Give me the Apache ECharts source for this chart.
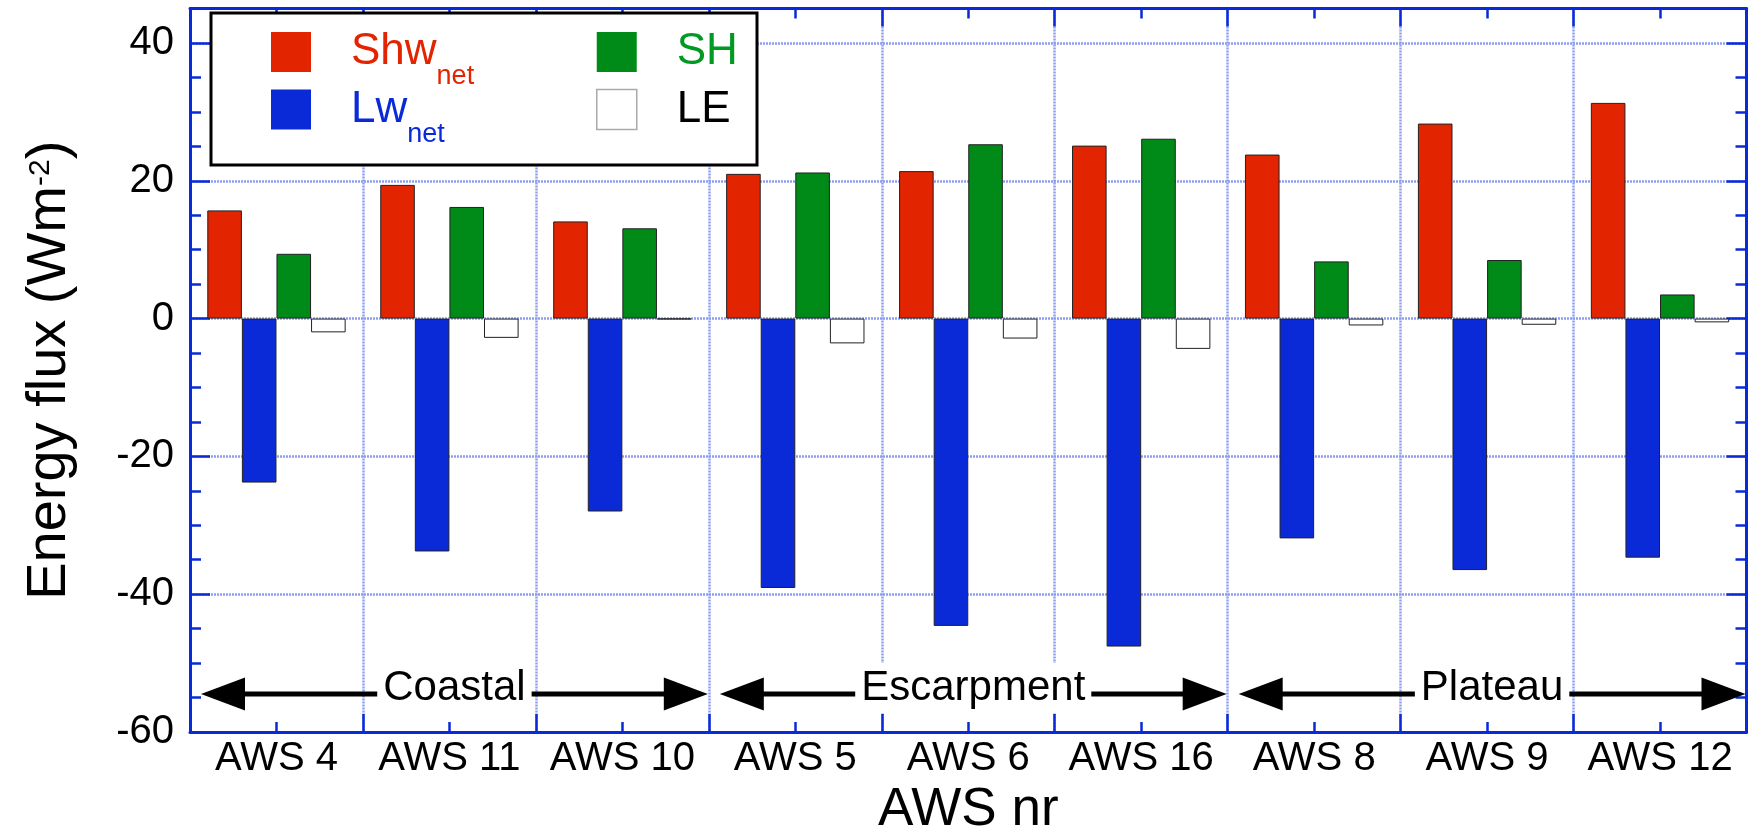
<!DOCTYPE html>
<html>
<head>
<meta charset="utf-8">
<script src="https://cdn.jsdelivr.net/npm/echarts@6/dist/echarts.min.js"></script>
<style>html,body{margin:0;padding:0;background:#fff}#c{width:1750px;height:831px}</style>
</head>
<body>
<div id="c"></div>
<script>
// ---- data ----
const categories = ['AWS 4', 'AWS 11', 'AWS 10', 'AWS 5', 'AWS 6', 'AWS 16', 'AWS 8', 'AWS 9', 'AWS 12'];
const shwNet = [15.7, 19.4, 14.1, 21.0, 21.4, 25.1, 23.8, 28.3, 31.3];
const lwNet  = [-23.8, -33.8, -28.0, -39.1, -44.6, -47.6, -31.9, -36.5, -34.7];
const shFlux = [9.4, 16.2, 13.1, 21.2, 25.3, 26.1, 8.3, 8.5, 3.5];
const leFlux = [-2.0, -2.8, -0.1, -3.6, -2.9, -4.4, -1.0, -0.9, -0.55];
const yMin = -60, yMax = 45, yMajor = 20, yMinor = 5;
const regionLabels = ['Coastal', 'Escarpment', 'Plateau'];
const regionStart = [0, 3, 6];
const regionEnd = [2, 5, 8];
const regionLevel = -54.5;

// ---- styles ----
const FONT = '"Liberation Sans", Arial, Helvetica, sans-serif';
const RED = '#e32400', BLUE = '#0a2ad8', GREEN = '#008a17', LEG_GREEN = '#009a22';
const AXIS = '#0a2ad8';
const gridStyle = { color: '#8d9ef0', width: 2.5, type: [2, 1] };
const axisLineStyle = { color: AXIS, width: 3 };
const tickStyle = { color: AXIS, width: 2.5 };

function xAx(position, centerTicks, extra) {
  return Object.assign({
    type: 'category', data: categories, position: position,
    axisLine: { show: !centerTicks, onZero: false, lineStyle: axisLineStyle },
    axisTick: { show: true, inside: true, interval: 0, alignWithLabel: centerTicks,
                length: centerTicks ? 10 : 18, lineStyle: tickStyle },
    axisLabel: { show: false, interval: 0 },
    splitLine: { show: false }
  }, extra || {});
}
function yAx(position, minor, extra) {
  return Object.assign({
    type: 'value', position: position, min: yMin, max: yMax,
    interval: minor ? yMinor : yMajor,
    axisLine: { show: !minor, onZero: false, lineStyle: axisLineStyle },
    axisTick: { show: true, inside: true, length: minor ? 11 : 20, lineStyle: tickStyle },
    axisLabel: { show: false },
    splitLine: { show: false }
  }, extra || {});
}

const chart = echarts.init(document.getElementById('c'), null, { renderer: 'canvas' });

const option = {
  backgroundColor: '#fff',
  animation: false,
  textStyle: { fontFamily: FONT },
  grid: { left: 190, right: 3.5, top: 8.5, bottom: 99, containLabel: false, outerBoundsMode: 'none' },
  xAxis: [
    xAx('bottom', false, {
      axisLabel: { show: true, interval: 0, fontSize: 40, color: '#000', margin: 7, fontFamily: FONT },
      splitLine: { show: true, interval: 0, lineStyle: gridStyle },
      name: 'AWS nr', nameLocation: 'middle', nameGap: 48,
      nameTextStyle: { fontSize: 53, color: '#000', fontFamily: FONT }
    }),
    xAx('bottom', true),
    xAx('top', false),
    xAx('top', true)
  ],
  yAxis: [
    yAx('left', false, {
      axisLabel: { show: true, fontSize: 40, color: '#000', margin: 16, fontFamily: FONT,
                   padding: [0, 0, 16, 0],
                   formatter: function (v) { return (v % yMajor === 0) ? String(v) : ''; } },
      splitLine: { show: true, lineStyle: gridStyle },
      name: 'Energy flux (Wm{sup|-2})', nameLocation: 'middle', nameGap: 112, nameRotate: 90,
      nameTextStyle: { fontSize: 56, color: '#000', fontFamily: FONT,
        rich: { sup: { fontSize: 30, fontFamily: FONT, color: '#000', padding: [0, 0, 19, 0], verticalAlign: 'middle' } } }
    }),
    yAx('left', true),
    yAx('right', false),
    yAx('right', true)
  ],
  legend: [
    {
      data: [{ name: 'Shw_net', itemStyle: { borderWidth: 0 } }, { name: 'Lw_net', itemStyle: { borderWidth: 0 } }],
      orient: 'vertical', left: 271, top: 13.5, padding: 0,
      itemWidth: 40, itemHeight: 40, itemGap: -19.5, icon: 'rect', selectedMode: false, z: 4,
      formatter: function (n) { return n === 'Shw_net' ? '{ar|Shw}{sr|net}' : '{ab|Lw}{sb|net}'; },
      textStyle: {
        fontFamily: FONT,
        rich: {
          ar: { fontSize: 44, lineHeight: 44, color: RED, fontFamily: FONT, padding: [0, 0, 0, 35], verticalAlign: 'middle' },
          sr: { fontSize: 27, lineHeight: 27, color: RED, fontFamily: FONT, padding: [50, 0, 0, 0], verticalAlign: 'middle' },
          ab: { fontSize: 44, lineHeight: 44, color: BLUE, fontFamily: FONT, padding: [0, 0, 0, 35], verticalAlign: 'middle' },
          sb: { fontSize: 27, lineHeight: 27, color: BLUE, fontFamily: FONT, padding: [50, 0, 0, 0], verticalAlign: 'middle' }
        }
      }
    },
    {
      data: [{ name: 'SH', itemStyle: { borderWidth: 0 } }, { name: 'LE', itemStyle: { borderColor: '#aaa', borderWidth: 1.5 } }],
      orient: 'vertical', left: 596, top: 30, padding: 0,
      itemWidth: 40, itemHeight: 40, itemGap: 13.5, icon: 'rect', selectedMode: false, z: 4,
      formatter: function (n) { return n === 'SH' ? '{g|SH}' : '{k|LE}'; },
      textStyle: {
        fontFamily: FONT,
        rich: {
          g: { fontSize: 44, lineHeight: 44, color: LEG_GREEN, fontFamily: FONT, padding: [0, 0, 0, 35] },
          k: { fontSize: 44, lineHeight: 44, color: '#000', fontFamily: FONT, padding: [0, 0, 0, 35] }
        }
      }
    }
  ],
  graphic: [
    { type: 'rect', z: 3, shape: { x: 211, y: 13, width: 546, height: 152 },
      style: { fill: '#fff', stroke: '#000', lineWidth: 3 } }
  ],
  series: [
    { name: 'Shw_net', type: 'bar', data: shwNet, barGap: '0%', barCategoryGap: '20%',
      itemStyle: { color: RED, borderColor: '#222', borderWidth: 1 } },
    { name: 'Lw_net', type: 'bar', data: lwNet, barGap: '0%', barCategoryGap: '20%',
      itemStyle: { color: BLUE, borderColor: '#222', borderWidth: 1 } },
    { name: 'SH', type: 'bar', data: shFlux, barGap: '0%', barCategoryGap: '20%',
      itemStyle: { color: GREEN, borderColor: '#222', borderWidth: 1 } },
    { name: 'LE', type: 'bar', data: leFlux, barGap: '0%', barCategoryGap: '20%',
      itemStyle: { color: '#fff', borderColor: '#222', borderWidth: 1 } },
    {
      type: 'custom', z: 5, silent: true,
      encode: { x: [0, 1], y: 2 },
      data: regionStart.map(function (s, i) { return [s, regionEnd[i], regionLevel]; }),
      renderItem: function (params, api) {
        const s = api.value(0), e = api.value(1), yv = api.value(2);
        const p0 = api.coord([s, yv]), p1 = api.coord([e, yv]);
        const w = api.size([1, 0])[0];
        const x0 = p0[0] - w / 2 + 11, x1 = p1[0] + w / 2 - 1, y = p0[1];
        const hl = 44, hh = 16.5, xm = (x0 + x1) / 2;
        return {
          type: 'group',
          children: [
            { type: 'line', shape: { x1: x0 + hl - 2, y1: y, x2: x1 - hl + 2, y2: y },
              style: { stroke: '#000', lineWidth: 5 } },
            { type: 'polygon', shape: { points: [[x0, y], [x0 + hl, y - hh], [x0 + hl, y + hh]] },
              style: { fill: '#000' } },
            { type: 'polygon', shape: { points: [[x1, y], [x1 - hl, y - hh], [x1 - hl, y + hh]] },
              style: { fill: '#000' } },
            { type: 'text', x: xm, y: y - 6,
              style: { text: regionLabels[params.dataIndex], fontSize: 42, fontFamily: FONT,
                       fill: '#000', align: 'center', verticalAlign: 'middle',
                       backgroundColor: '#fff', padding: [4, 6, 4, 6] } }
          ]
        };
      }
    }
  ]
};
chart.setOption(option);
</script>
</body>
</html>
